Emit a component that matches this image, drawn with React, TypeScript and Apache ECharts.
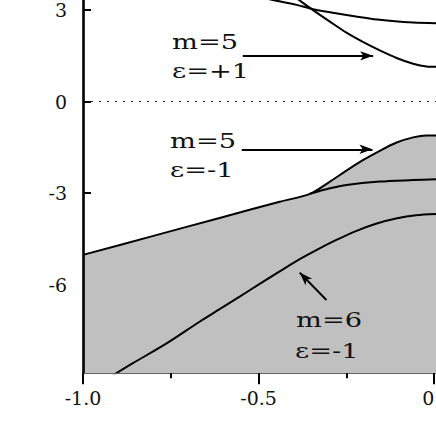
import React, { useEffect, useRef } from "react";
import * as echarts from "echarts";

// ---------- data ----------
const xMajorTicks = [-1, -0.5, 0];
const xMinorTicks = [-0.75, -0.25];
const xTickLabels = [-1, -0.5, 0];
const yTicks = [3, 0, -3];
const yTickLabels = [3, 0, -3, -6];

// m=5, eps=+1 : two branches crossing
const upperBranchFlat: [number, number][] = [
  [-0.52, 3.48], [-0.459, 3.33], [-0.392, 3.17], [-0.345, 3.03], [-0.25, 2.84],
  [-0.155, 2.68], [-0.06, 2.59], [0.005, 2.57],
];
const upperBranchSteep: [number, number][] = [
  [-0.41, 3.54], [-0.385, 3.33], [-0.345, 3.0], [-0.297, 2.62], [-0.25, 2.26],
  [-0.202, 1.95], [-0.155, 1.68], [-0.107, 1.43], [-0.06, 1.24], [-0.022, 1.15], [0.005, 1.14],
];
// m=5, eps=-1 : envelope (filled) and inner branch
const lowerEnvelope: [number, number][] = [
  [-1.0, -5.02], [-0.81, -4.43], [-0.611, -3.81], [-0.44, -3.28], [-0.354, -3.02],
  [-0.297, -2.62], [-0.25, -2.26], [-0.202, -1.91], [-0.155, -1.61], [-0.107, -1.34],
  [-0.06, -1.17], [-0.022, -1.11], [0.005, -1.11],
];
const lowerInner: [number, number][] = [
  [-0.354, -3.02], [-0.297, -2.84], [-0.25, -2.73], [-0.155, -2.62], [-0.06, -2.57], [0.005, -2.54],
];
// m=6, eps=-1
const m6Curve: [number, number][] = [
  [-0.93, -9.1], [-0.909, -8.93], [-0.858, -8.57], [-0.762, -7.92], [-0.668, -7.21],
  [-0.611, -6.8], [-0.554, -6.39], [-0.497, -5.97], [-0.44, -5.56], [-0.383, -5.16],
  [-0.337, -4.87], [-0.28, -4.54], [-0.223, -4.24], [-0.166, -4.0], [-0.109, -3.83],
  [-0.052, -3.72], [0.005, -3.68],
];
// arrows [tail, tip]
const arrowUpper: [number, number][] = [[-0.545, 1.5], [-0.174, 1.5]];
const arrowMiddle: [number, number][] = [[-0.548, -1.56], [-0.176, -1.56]];
const arrowM6: [number, number][] = [[-0.307, -6.5], [-0.383, -5.6]];

const labels = [
  { text: "m=5", x: 172, y: 42 },
  { text: "ε=+1", x: 172, y: 71 },
  { text: "m=5", x: 170, y: 140.5 },
  { text: "ε=-1", x: 170, y: 170 },
  { text: "m=6", x: 296, y: 320 },
  { text: "ε=-1", x: 295, y: 351 },
];

const FONT = '"DejaVu Serif", "Liberation Serif", serif';

export default function App() {
  const ref = useRef<HTMLDivElement>(null);
  useEffect(() => {
    if (!ref.current) return;
    const chart = echarts.init(ref.current, undefined, { renderer: "svg" });
    const curve = (data: [number, number][], extra: any = {}) => ({
      type: "line",
      data,
      showSymbol: false,
      symbol: "none",
      smooth: 0.3,
      lineStyle: { color: "#000", width: 2 },
      z: 3,
      ...extra,
    });
    const arrow = (a: [number, number][]) => [
      { coord: a[0], symbol: "none" },
      { coord: a[1], symbol: "arrow", symbolSize: [7, 13] },
    ];
    chart.setOption({
      animation: false,
      backgroundColor: "#fff",
      grid: { left: 83, right: 0, top: 0, bottom: 62.7, containLabel: false, outerBoundsMode: "none" },
      xAxis: [
        {
          type: "value",
          min: -1,
          max: 0.005,
          axisLine: { show: true, onZero: false, lineStyle: { color: "#666", width: 1 } },
          axisTick: { show: true, customValues: xMajorTicks, length: 11, lineStyle: { color: "#000", width: 2 } },
          axisLabel: {
            show: true,
            customValues: xTickLabels,
            formatter: (v: number) => (v === 0 ? "0" : v.toFixed(1)),
            fontFamily: FONT,
            fontSize: 19,
            color: "#111",
            margin: 15,
            alignMaxLabel: "right",
          },
          splitLine: { show: false },
          z: 5,
        },
        {
          type: "value",
          min: -1,
          max: 0.005,
          position: "bottom",
          axisLine: { show: false, onZero: false },
          axisTick: { show: true, customValues: xMinorTicks, length: 5, lineStyle: { color: "#000", width: 2 } },
          axisLabel: { show: false },
          splitLine: { show: false },
          z: 5,
        },
      ],
      yAxis: {
        type: "value",
        min: -8.9,
        max: 3.33,
        position: "left",
        axisLine: { show: true, onZero: false, lineStyle: { color: "#000", width: 2.6 } },
        axisTick: { show: true, inside: true, customValues: yTicks, length: 8, lineStyle: { color: "#000", width: 2 } },
        axisLabel: {
          show: true,
          customValues: yTickLabels,
          fontFamily: FONT,
          fontSize: 19,
          color: "#111",
          margin: 16,
        },
        splitLine: { show: false },
        z: 5,
      },
      series: [
        curve(lowerEnvelope, {
          areaStyle: { color: "#c0c0c0", opacity: 1, origin: "start" },
          z: 2,
        }),
        curve(lowerInner, {
          markLine: {
            silent: true,
            symbol: ["none", "none"],
            label: { show: false },
            lineStyle: { color: "#222", width: 1.2, type: [2, 6] },
            data: [{ yAxis: 0 }],
          },
        }),
        curve(m6Curve),
        curve(upperBranchFlat),
        curve(upperBranchSteep, {
          markLine: {
            silent: true,
            label: { show: false },
            lineStyle: { color: "#000", width: 2, type: "solid" },
            data: [arrow(arrowUpper), arrow(arrowMiddle), arrow(arrowM6)],
          },
        }),
      ],
      graphic: labels.map((l) => ({
        type: "text",
        x: l.x,
        y: l.y,
        scaleX: 1.3,
        z: 10,
        style: {
          text: l.text,
          fontFamily: FONT,
          fontSize: 21,
          fill: "#111",
          verticalAlign: "middle",
          align: "left",
        },
      })),
    });
    return () => chart.dispose();
  }, []);
  return (
    <div
      ref={ref}
      style={{ position: "fixed", left: 0, top: 0, width: 436, height: 436, background: "#fff" }}
    />
  );
}
